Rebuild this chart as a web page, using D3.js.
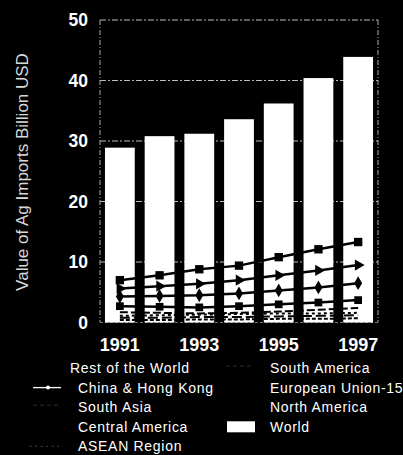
<!doctype html>
<html>
<head>
<meta charset="utf8">
<title>Ag Imports</title>
<script src="https://cdn.jsdelivr.net/npm/d3@7"></script>
<style>
  body { margin: 0; background: #000; }
  svg { display: block; font-family: "Liberation Sans", Arial, sans-serif; }
</style>
</head>
<body>
<div id="chart"></div>
<script>
"use strict";
// data (billion USD)
const years = [1991, 1992, 1993, 1994, 1995, 1996, 1997];
const yearLabels = [1991, 1993, 1995, 1997];
const yTicks = [0, 10, 20, 30, 40, 50];

const world = [28.9, 30.8, 31.2, 33.6, 36.2, 40.4, 43.9];
const restOfWorld = [7.0, 7.8, 8.8, 9.4, 10.8, 12.1, 13.3];
const eu15 = [5.6, 6.0, 6.4, 7.0, 7.8, 8.6, 9.5];
const northAmerica = [4.3, 4.4, 4.5, 4.8, 5.3, 5.8, 6.5];
const chinaHK = [2.7, 2.6, 2.5, 2.7, 3.0, 3.3, 3.7];
const southAmerica = [1.7, 1.6, 1.5, 1.6, 1.8, 2.1, 2.4];
const asean = [1.1, 1.2, 1.3, 1.4, 1.5, 1.5, 1.6];
const centralAmerica = [0.8, 0.8, 0.9, 0.9, 1.0, 1.1, 1.2];
const southAsia = [0.4, 0.4, 0.5, 0.5, 0.6, 0.6, 0.7];

const W = 403, H = 455;
const pLeft = 100, pRight = 378, pTop = 20, pBottom = 322.5;

const svg = d3.select("#chart").append("svg")
    .attr("width", W).attr("height", H)
    .style("background", "#000");

const x = d3.scaleBand().domain(years).range([pLeft, pRight])
    .paddingInner(0.25).paddingOuter(0.125);
const y = d3.scaleLinear().domain([0, 50]).range([pBottom, pTop]);

// frame + gridlines (dotted, like the scan)
const grid = svg.append("g");
grid.selectAll("line.h").data(yTicks.slice(1)).enter().append("line")
    .attr("x1", pLeft).attr("x2", pRight)
    .attr("y1", d => y(d)).attr("y2", d => y(d))
    .attr("stroke", "#bbb").attr("stroke-width", 1)
    .attr("stroke-dasharray", "6,2,2,2");
[pLeft, pRight].forEach(xx => {
  grid.append("line").attr("x1", xx).attr("x2", xx)
      .attr("y1", pTop).attr("y2", pBottom)
      .attr("stroke", "#aaa").attr("stroke-dasharray", "5,2,1,2");
});
grid.append("line").attr("x1", pLeft).attr("x2", pRight)
    .attr("y1", pBottom).attr("y2", pBottom)
    .attr("stroke", "#777").attr("stroke-dasharray", "3,2");

// World bars
svg.append("g").selectAll("rect").data(years).enter().append("rect")
    .attr("x", d => x(d))
    .attr("width", x.bandwidth())
    .attr("y", (d, i) => y(world[i]))
    .attr("height", (d, i) => y(0) - y(world[i]))
    .attr("fill", "#fff");

// line series
const cx = d => x(d) + x.bandwidth() / 2;
const series = [
  { name: "Rest of the World", values: restOfWorld, marker: d3.symbolSquare, size: 70, width: 2.5, dash: null },
  { name: "European Union-15", values: eu15, marker: d3.symbolTriangle, size: 55, width: 2.5, dash: null },
  { name: "North America", values: northAmerica, marker: d3.symbolDiamond, size: 55, width: 2.5, dash: null },
  { name: "China & Hong Kong", values: chinaHK, marker: d3.symbolSquare, size: 60, width: 2.5, dash: null },
  { name: "South America", values: southAmerica, marker: null, size: 0, width: 2, dash: "8,3" },
  { name: "ASEAN Region", values: asean, marker: null, size: 0, width: 2, dash: "3,3" },
  { name: "Central America", values: centralAmerica, marker: null, size: 0, width: 2, dash: "10,4" },
  { name: "South Asia", values: southAsia, marker: null, size: 0, width: 2, dash: "4,2" }
];

const line = d3.line().x(d => cx(d[0])).y(d => y(d[1]));
const lines = svg.append("g");
series.forEach(s => {
  const pts = years.map((yr, i) => [yr, s.values[i]]);
  lines.append("path").datum(pts)
      .attr("d", line)
      .attr("fill", "none").attr("stroke", "#000")
      .attr("stroke-width", s.width)
      .attr("stroke-dasharray", s.dash);
  if (s.marker) {
    lines.selectAll(null).data(pts).enter().append("path")
        .attr("d", d3.symbol().type(s.marker).size(s.size))
        .attr("transform", d => "translate(" + cx(d[0]) + "," + y(d[1]) + ")" +
              (s.marker === d3.symbolTriangle ? " rotate(90)" : ""))
        .attr("fill", "#000");
  }
});

// axes text
const yAxis = d3.axisLeft(y).tickValues(yTicks).tickSize(0).tickPadding(12);
svg.append("g").attr("transform", "translate(" + pLeft + ",0)").call(yAxis)
    .call(g => g.select(".domain").remove())
    .selectAll("text")
    .attr("fill", "#fff").attr("font-size", 17.5).attr("font-weight", "bold")
    .attr("font-family", "Liberation Sans, Arial, sans-serif");

const xAxis = d3.axisBottom(x).tickValues(yearLabels).tickSize(0).tickPadding(0);
svg.append("g").attr("transform", "translate(0," + (pBottom + 16) + ")").call(xAxis)
    .call(g => g.select(".domain").remove())
    .selectAll("text")
    .attr("fill", "#fff").attr("font-size", 18).attr("font-weight", "bold")
    .attr("font-family", "Liberation Sans, Arial, sans-serif");

svg.append("text")
    .attr("transform", "translate(28,172) rotate(-90)")
    .attr("text-anchor", "middle")
    .attr("fill", "#d8d8d8").attr("font-size", 17)
    .text("Value of Ag Imports Billion USD");

// legend
const legendRows = [
  { name: "Rest of the World", col: 0, row: 0, sym: "none", tx: 70 },
  { name: "China & Hong Kong", col: 0, row: 1, sym: "china", tx: 78 },
  { name: "South Asia", col: 0, row: 2, sym: "dots", tx: 78 },
  { name: "Central America", col: 0, row: 3, sym: "none", tx: 78 },
  { name: "ASEAN Region", col: 0, row: 4, sym: "faint", tx: 78 },
  { name: "South America", col: 1, row: 0, sym: "dots", tx: 270 },
  { name: "European Union-15", col: 1, row: 1, sym: "none", tx: 270 },
  { name: "North America", col: 1, row: 2, sym: "none", tx: 270 },
  { name: "World", col: 1, row: 3, sym: "box", tx: 270 }
];
const rowY = r => 373 + r * 19.6;
const leg = svg.append("g");
legendRows.forEach(d => {
  const by = rowY(d.row);
  const sx = d.col === 0 ? 33 : 226;
  if (d.sym === "china") {
    leg.append("line").attr("x1", sx).attr("x2", sx + 28).attr("y1", by - 5).attr("y2", by - 5)
        .attr("stroke", "#fff").attr("stroke-width", 1.3);
    leg.append("circle").attr("cx", sx + 15).attr("cy", by - 5).attr("r", 2).attr("fill", "#fff");
  } else if (d.sym === "dots") {
    leg.append("line").attr("x1", sx).attr("x2", sx + 28).attr("y1", by - 7).attr("y2", by - 7)
        .attr("stroke", "#2a2a2a").attr("stroke-width", 1).attr("stroke-dasharray", "4,3");
  } else if (d.sym === "faint") {
    leg.append("line").attr("x1", sx - 3).attr("x2", sx + 29).attr("y1", by - 5).attr("y2", by - 5)
        .attr("stroke", "#444").attr("stroke-width", 1.2).attr("stroke-dasharray", "1.5,4");
  } else if (d.sym === "box") {
    leg.append("rect").attr("x", sx + 1).attr("y", by - 10.5).attr("width", 28).attr("height", 11)
        .attr("fill", "#fff");
  }
  leg.append("text").attr("x", d.tx).attr("y", by)
      .attr("fill", "#fff").attr("font-size", 14).attr("letter-spacing", 0.7)
      .text(d.name);
});
</script>
</body>
</html>
